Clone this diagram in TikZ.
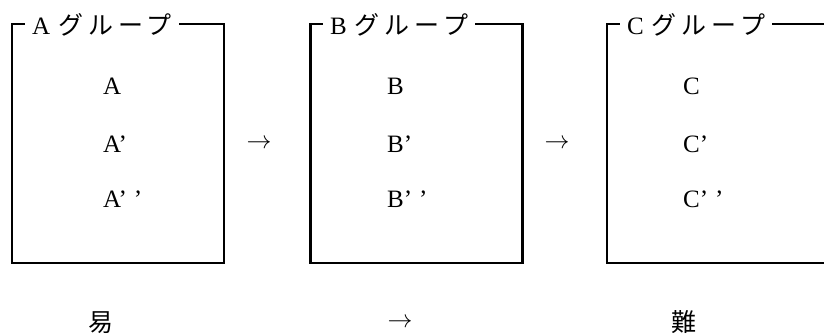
\documentclass[tikz,border=0pt]{standalone}
\usepackage{fontspec}
\setmainfont{Liberation Serif}
\newfontfamily\jp{Noto Sans CJK JP}
\newfontfamily\jpt[LetterSpace=20]{Noto Sans CJK JP}
\begin{document}
\begin{tikzpicture}[x=1pt,y=-1pt,
  grp/.style={draw,line width=2.4pt,inner sep=0pt,minimum width=212pt,minimum height=239pt},
  ttl/.style={fill=white,inner xsep=7pt,inner ysep=2pt,anchor=base west,font=\fontsize{25}{25}\selectfont},
  itm/.style={anchor=base west,inner sep=0pt,font=\fontsize{25}{25}\selectfont},
  arr/.style={inner sep=0pt,font=\fontsize{28}{28}\selectfont},
  lvl/.style={anchor=base,inner sep=0pt,font=\fontsize{25}{25}\selectfont\jp}]
\useasboundingbox (0,0) rectangle (824,334);
\clip (0,0) rectangle (824,334);
% boxes
\node[grp] (ga) at (118,143.5) {};
\node[grp] (gb) at (416.5,143.5) {};
\node[grp,minimum width=260pt] (gc) at (737,143.5) {};
% titles
\node[ttl] (ta) at (25,35) {A\hspace{8pt}{\fontsize{25}{25}\jpt グループ}};
\node[ttl] (tb) at (323,35) {B\hspace{8pt}{\fontsize{25}{25}\jpt グループ}};
\node[ttl] (tc) at (620,35) {C\hspace{8pt}{\fontsize{25}{25}\jpt グループ}};
% items
\node[itm] (a1) at (103,95) {A};
\node[itm] (a2) at (103,152) {A’};
\node[itm] (a3) at (103,207) {A’\hspace{7pt}’};
\node[itm] (b1) at (387,95) {B};
\node[itm] (b2) at (387,152) {B’};
\node[itm] (b3) at (387,207) {B’\hspace{7pt}’};
\node[itm] (c1) at (683,95) {C};
\node[itm] (c2) at (683,152) {C’};
\node[itm] (c3) at (683,207) {C’\hspace{7pt}’};
% arrows between groups
\node[arr] (r1) at (259,144) {$\rightarrow$};
\node[arr] (r2) at (557,144) {$\rightarrow$};
% bottom scale
\node[lvl] (easy) at (101,331) {易};
\node[arr] (r3) at (400,323) {$\rightarrow$};
\node[lvl] (hard) at (684,331) {難};
\end{tikzpicture}
\end{document}
